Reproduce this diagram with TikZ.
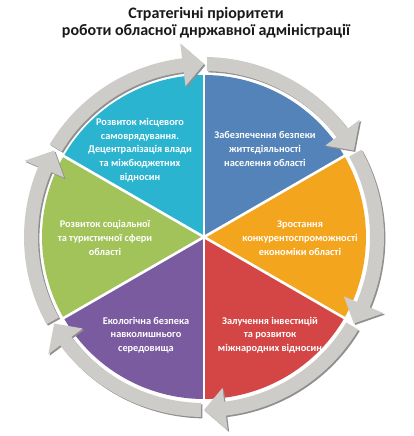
\documentclass[tikz,border=0pt]{standalone}
\usepackage{fontspec}
\setmainfont{Carlito}
\definecolor{cblue}{HTML}{5383B8}
\definecolor{corange}{HTML}{F4A51E}
\definecolor{cred}{HTML}{D44545}
\definecolor{cpurple}{HTML}{7B5BA0}
\definecolor{cgreen}{HTML}{A2C35A}
\definecolor{ccyan}{HTML}{2BB4D0}
\definecolor{agray}{HTML}{CDCCC9}
\definecolor{ashadow}{HTML}{8F8F8F}
\begin{document}
\begin{tikzpicture}[x=1pt,y=1pt,
  seglabel/.style={text=white,font=\bfseries\fontsize{10.3}{13.7}\selectfont,align=center,inner sep=0pt},
  titlelabel/.style={text=black!90,font=\bfseries\fontsize{16}{17}\selectfont,align=center,inner sep=0pt},
  arrowfill/.style={fill=agray},
  arrowshadow/.style={fill=ashadow}]
\useasboundingbox[fill=white] (-204,-199) rectangle (210,237);
% pie sectors
\foreach \a/\c in {90/cblue,30/corange,-30/cred,-90/cpurple,-150/cgreen,150/ccyan}{
  \fill[\c] (0,0) -- (\a:162) arc[start angle=\a, end angle=\a-60, radius=162] -- cycle;
}
\foreach \a in {90,30,-30,-90,-150,150}{
  \draw[white,line width=2.6pt] (0,0) -- (\a:170);
}
% ring arrows
\foreach \b in {90,30,-30,-90,-150,-210}{
  \pgfmathsetmacro\ta{\b-1}
  \pgfmathsetmacro\hb{\b-53}
  \pgfmathsetmacro\tp{\b-60}
  \fill[arrowshadow,shift={(1.4,-1.4)}] (\ta:180) arc[start angle=\ta, end angle=\hb, radius=180] -- (\hb:195) -- (\tp:173) -- (\hb:152) -- (\hb:166) arc[start angle=\hb, end angle=\ta, radius=166] -- cycle;
  \fill[arrowfill] (\ta:180) arc[start angle=\ta, end angle=\hb, radius=180] -- (\hb:195) -- (\tp:173) -- (\hb:152) -- (\hb:166) arc[start angle=\hb, end angle=\ta, radius=166] -- cycle;
}
% labels
\node[titlelabel] (title) at (2,214.5) {Стратегічні пріоритети\\роботи обласної днржавної адміністрації};
\node[seglabel] (blue) at (61,88) {Забезпечення безпеки\\життєдіяльності\\населення області};
\node[seglabel] (orange) at (96,-1) {Зростання\\конкурентоспроможності\\економіки області};
\node[seglabel] (red) at (66,-98) {Залучення інвестицій\\та розвиток\\міжнародних відносин};
\node[seglabel] (purple) at (-58,-98) {Екологічна безпека\\навколишнього\\середовища};
\node[seglabel] (green) at (-99,-1) {Розвиток соціальної\\та туристичної сфери\\області};
\node[seglabel] (cyan) at (-64,87) {Розвиток місцевого\\самоврядування.\\Децентралізація влади\\та міжбюджетних\\відносин};
\end{tikzpicture}
\end{document}
